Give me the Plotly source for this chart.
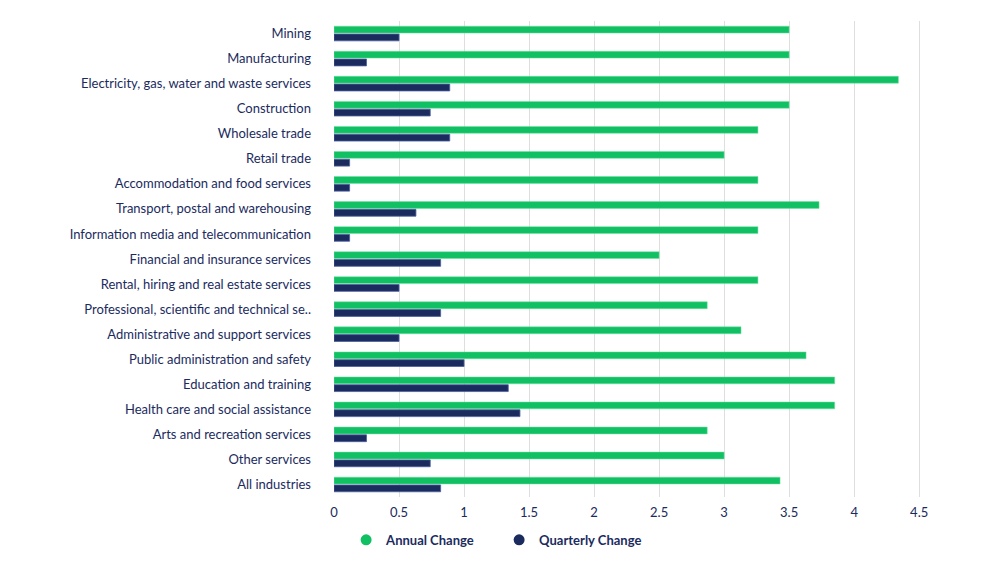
import plotly.graph_objects as go

industries = [
    "Mining",
    "Manufacturing",
    "Electricity, gas, water and waste services",
    "Construction",
    "Wholesale trade",
    "Retail trade",
    "Accommodation and food services",
    "Transport, postal and warehousing",
    "Information media and telecommunication",
    "Financial and insurance services",
    "Rental, hiring and real estate services",
    "Professional, scientific and technical se..",
    "Administrative and support services",
    "Public administration and safety",
    "Education and training",
    "Health care and social assistance",
    "Arts and recreation services",
    "Other services",
    "All industries",
]
annual_change = [3.5, 3.5, 4.34, 3.5, 3.26, 3.0, 3.26, 3.73, 3.26, 2.5,
                 3.26, 2.87, 3.13, 3.63, 3.85, 3.85, 2.87, 3.0, 3.43]
quarterly_change = [0.5, 0.25, 0.89, 0.74, 0.89, 0.12, 0.12, 0.63, 0.12, 0.82,
                    0.5, 0.82, 0.5, 1.0, 1.34, 1.43, 0.25, 0.74, 0.82]
x_ticks = [0, 0.5, 1, 1.5, 2, 2.5, 3, 3.5, 4, 4.5]

green = "#12C064"
navy = "#1B2B5E"

fig = go.Figure()
fig.add_trace(go.Bar(
    y=industries, x=annual_change, orientation="h", name="Annual Change",
    marker=dict(color=green, line=dict(color="#6fe0a0", width=0.5)),
    showlegend=False,
))
fig.add_trace(go.Bar(
    y=industries, x=quarterly_change, orientation="h", name="Quarterly Change",
    marker=dict(color=navy, line=dict(color="#4a5f9e", width=0.8)),
    showlegend=False,
))
# circle markers for the legend
fig.add_trace(go.Scatter(x=[None], y=[None], mode="markers", name="Annual Change",
                         marker=dict(color=green, size=11, symbol="circle")))
fig.add_trace(go.Scatter(x=[None], y=[None], mode="markers", name="Quarterly Change",
                         marker=dict(color=navy, size=11, symbol="circle")))

fig.update_layout(
    width=1000, height=563,
    barmode="group", bargap=0.38, bargroupgap=0.12,
    plot_bgcolor="white", paper_bgcolor="white",
    margin=dict(l=326, r=68, t=13, b=74, autoexpand=False),
    font=dict(family="Lato, Noto Sans, sans-serif", size=13, color=navy),
    legend=dict(
        orientation="h", x=0.02, xanchor="left", y=-0.09, yanchor="middle",
        font=dict(size=13, color=navy, weight="bold"),
        itemwidth=30, entrywidth=108, traceorder="normal",
    ),
)
fig.update_xaxes(
    range=[0, 4.66], tickvals=x_ticks, ticktext=[f"{v:g}" for v in x_ticks],
    showgrid=True, gridcolor="#dedede", gridwidth=1, zeroline=False,
    showline=False, ticks="", ticklabelstandoff=6, automargin=False,
)
fig.update_yaxes(
    autorange="reversed", showgrid=False, zeroline=False, showline=False,
    ticks="", ticklabelstandoff=22, automargin=False,
)

fig.write_html("out.html")
